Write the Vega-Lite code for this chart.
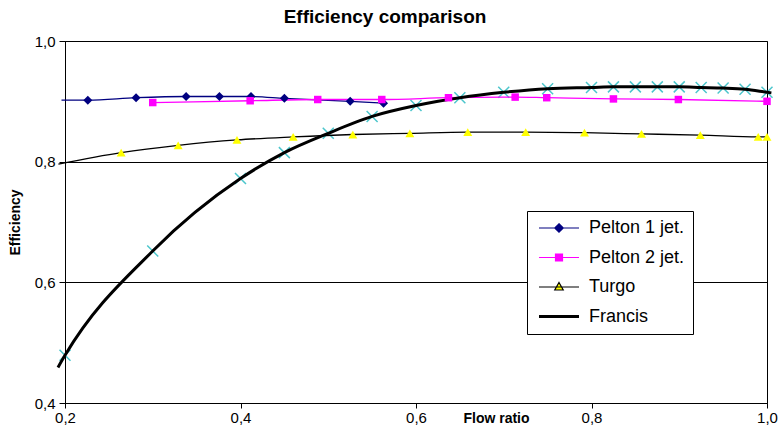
{
  "$schema": "https://vega.github.io/schema/vega-lite/v6.json",
  "autosize": "none",
  "width": 702,
  "height": 362,
  "padding": {"left": 65, "top": 41, "right": 12, "bottom": 32},
  "background": "#ffffff",
  "title": {"text": "Efficiency comparison", "font": "Liberation Sans", "fontSize": 19, "fontWeight": "bold", "color": "#000000", "dx": -31, "offset": 7},
  "config": {
    "view": {"stroke": "#000000", "strokeWidth": 1},
    "axis": {"domainColor": "#000000", "tickColor": "#000000", "gridColor": "#000000", "gridOpacity": 1, "labelFont": "Liberation Sans", "labelFontSize": 15, "labelColor": "#000000", "labelFlush": false, "labelOverlap": false, "titleFont": "Liberation Sans", "titleFontWeight": "bold", "titleColor": "#000000", "tickSize": 6}
  },
  "datasets": {
    "markers": [
      {"series": "Pelton 1 jet.", "flow": 0.226, "eff": 0.902},
      {"series": "Pelton 1 jet.", "flow": 0.281, "eff": 0.906},
      {"series": "Pelton 1 jet.", "flow": 0.338, "eff": 0.908},
      {"series": "Pelton 1 jet.", "flow": 0.376, "eff": 0.908},
      {"series": "Pelton 1 jet.", "flow": 0.412, "eff": 0.908},
      {"series": "Pelton 1 jet.", "flow": 0.450, "eff": 0.905},
      {"series": "Pelton 1 jet.", "flow": 0.525, "eff": 0.900},
      {"series": "Pelton 1 jet.", "flow": 0.563, "eff": 0.897},
      {"series": "Pelton 2 jet.", "flow": 0.300, "eff": 0.898},
      {"series": "Pelton 2 jet.", "flow": 0.411, "eff": 0.901},
      {"series": "Pelton 2 jet.", "flow": 0.488, "eff": 0.903},
      {"series": "Pelton 2 jet.", "flow": 0.561, "eff": 0.903},
      {"series": "Pelton 2 jet.", "flow": 0.637, "eff": 0.906},
      {"series": "Pelton 2 jet.", "flow": 0.713, "eff": 0.907},
      {"series": "Pelton 2 jet.", "flow": 0.749, "eff": 0.906},
      {"series": "Pelton 2 jet.", "flow": 0.825, "eff": 0.904},
      {"series": "Pelton 2 jet.", "flow": 0.899, "eff": 0.903},
      {"series": "Pelton 2 jet.", "flow": 1.000, "eff": 0.900},
      {"series": "Turgo", "flow": 0.264, "eff": 0.815},
      {"series": "Turgo", "flow": 0.329, "eff": 0.827},
      {"series": "Turgo", "flow": 0.396, "eff": 0.836},
      {"series": "Turgo", "flow": 0.460, "eff": 0.841},
      {"series": "Turgo", "flow": 0.528, "eff": 0.845},
      {"series": "Turgo", "flow": 0.593, "eff": 0.847},
      {"series": "Turgo", "flow": 0.659, "eff": 0.849},
      {"series": "Turgo", "flow": 0.725, "eff": 0.849},
      {"series": "Turgo", "flow": 0.792, "eff": 0.848},
      {"series": "Turgo", "flow": 0.857, "eff": 0.846},
      {"series": "Turgo", "flow": 0.924, "eff": 0.844},
      {"series": "Turgo", "flow": 0.990, "eff": 0.841},
      {"series": "Turgo", "flow": 1.000, "eff": 0.841},
      {"series": "Francis", "flow": 0.200, "eff": 0.479},
      {"series": "Francis", "flow": 0.300, "eff": 0.652},
      {"series": "Francis", "flow": 0.400, "eff": 0.772},
      {"series": "Francis", "flow": 0.450, "eff": 0.815},
      {"series": "Francis", "flow": 0.500, "eff": 0.847},
      {"series": "Francis", "flow": 0.550, "eff": 0.875},
      {"series": "Francis", "flow": 0.600, "eff": 0.893},
      {"series": "Francis", "flow": 0.650, "eff": 0.906},
      {"series": "Francis", "flow": 0.700, "eff": 0.915},
      {"series": "Francis", "flow": 0.750, "eff": 0.921},
      {"series": "Francis", "flow": 0.800, "eff": 0.923},
      {"series": "Francis", "flow": 0.825, "eff": 0.924},
      {"series": "Francis", "flow": 0.850, "eff": 0.924},
      {"series": "Francis", "flow": 0.875, "eff": 0.924},
      {"series": "Francis", "flow": 0.900, "eff": 0.924},
      {"series": "Francis", "flow": 0.925, "eff": 0.923},
      {"series": "Francis", "flow": 0.950, "eff": 0.922},
      {"series": "Francis", "flow": 0.975, "eff": 0.920},
      {"series": "Francis", "flow": 1.000, "eff": 0.915}
    ],
    "curves": [
      {"series": "Pelton 1 jet.", "flow": 0.196, "eff": 0.902},
      {"series": "Pelton 1 jet.", "flow": 0.226, "eff": 0.902},
      {"series": "Pelton 1 jet.", "flow": 0.281, "eff": 0.906},
      {"series": "Pelton 1 jet.", "flow": 0.338, "eff": 0.908},
      {"series": "Pelton 1 jet.", "flow": 0.376, "eff": 0.908},
      {"series": "Pelton 1 jet.", "flow": 0.412, "eff": 0.908},
      {"series": "Pelton 1 jet.", "flow": 0.450, "eff": 0.905},
      {"series": "Pelton 1 jet.", "flow": 0.525, "eff": 0.900},
      {"series": "Pelton 1 jet.", "flow": 0.563, "eff": 0.897},
      {"series": "Pelton 2 jet.", "flow": 0.300, "eff": 0.898},
      {"series": "Pelton 2 jet.", "flow": 0.411, "eff": 0.901},
      {"series": "Pelton 2 jet.", "flow": 0.488, "eff": 0.903},
      {"series": "Pelton 2 jet.", "flow": 0.561, "eff": 0.903},
      {"series": "Pelton 2 jet.", "flow": 0.637, "eff": 0.906},
      {"series": "Pelton 2 jet.", "flow": 0.713, "eff": 0.907},
      {"series": "Pelton 2 jet.", "flow": 0.749, "eff": 0.906},
      {"series": "Pelton 2 jet.", "flow": 0.825, "eff": 0.904},
      {"series": "Pelton 2 jet.", "flow": 0.899, "eff": 0.903},
      {"series": "Pelton 2 jet.", "flow": 1.000, "eff": 0.900},
      {"series": "Turgo", "flow": 0.1925, "eff": 0.796},
      {"series": "Turgo", "flow": 0.264, "eff": 0.815},
      {"series": "Turgo", "flow": 0.329, "eff": 0.827},
      {"series": "Turgo", "flow": 0.396, "eff": 0.836},
      {"series": "Turgo", "flow": 0.460, "eff": 0.841},
      {"series": "Turgo", "flow": 0.528, "eff": 0.845},
      {"series": "Turgo", "flow": 0.593, "eff": 0.847},
      {"series": "Turgo", "flow": 0.659, "eff": 0.849},
      {"series": "Turgo", "flow": 0.725, "eff": 0.849},
      {"series": "Turgo", "flow": 0.792, "eff": 0.848},
      {"series": "Turgo", "flow": 0.857, "eff": 0.846},
      {"series": "Turgo", "flow": 0.924, "eff": 0.844},
      {"series": "Turgo", "flow": 0.990, "eff": 0.841},
      {"series": "Turgo", "flow": 1.000, "eff": 0.841},
      {"series": "Francis", "flow": 0.192, "eff": 0.459},
      {"series": "Francis", "flow": 0.200, "eff": 0.479},
      {"series": "Francis", "flow": 0.300, "eff": 0.652},
      {"series": "Francis", "flow": 0.400, "eff": 0.772},
      {"series": "Francis", "flow": 0.450, "eff": 0.815},
      {"series": "Francis", "flow": 0.500, "eff": 0.847},
      {"series": "Francis", "flow": 0.550, "eff": 0.875},
      {"series": "Francis", "flow": 0.600, "eff": 0.893},
      {"series": "Francis", "flow": 0.650, "eff": 0.906},
      {"series": "Francis", "flow": 0.700, "eff": 0.915},
      {"series": "Francis", "flow": 0.750, "eff": 0.921},
      {"series": "Francis", "flow": 0.800, "eff": 0.923},
      {"series": "Francis", "flow": 0.825, "eff": 0.924},
      {"series": "Francis", "flow": 0.850, "eff": 0.924},
      {"series": "Francis", "flow": 0.875, "eff": 0.924},
      {"series": "Francis", "flow": 0.900, "eff": 0.924},
      {"series": "Francis", "flow": 0.925, "eff": 0.923},
      {"series": "Francis", "flow": 0.950, "eff": 0.922},
      {"series": "Francis", "flow": 0.975, "eff": 0.920},
      {"series": "Francis", "flow": 1.000, "eff": 0.915},
      {"series": "Francis", "flow": 1.005, "eff": 0.914}
    ]
  },
  "encoding": {
    "x": {"field": "flow", "type": "quantitative",
      "scale": {"domain": [0.2, 1.0], "nice": false, "zero": false},
      "axis": {"values": [0.2, 0.4, 0.6, 0.8, 1.0], "grid": false, "labelExpr": "replace(format(datum.value, '.1f'), '.', ',')", "labelPadding": 2, "tickSize": 5, "title": "Flow ratio", "titleFontSize": 14, "titleX": 431, "titleY": 15, "titleBaseline": "middle", "titleAlign": "center"}},
    "y": {"field": "eff", "type": "quantitative",
      "scale": {"domain": [0.4, 1.0], "nice": false, "zero": false},
      "axis": {"values": [0.4, 0.6, 0.8, 1.0], "grid": true, "labelExpr": "replace(format(datum.value, '.1f'), '.', ',')", "labelPadding": 4, "title": "Efficiency", "titleFontSize": 14, "titleAngle": -90, "titleX": -50, "titleY": 181, "titleAlign": "center", "titleBaseline": "middle"}}
  },
  "layer": [
    {
      "data": {"name": "markers"},
      "transform": [{"filter": "datum.series === 'Francis'"}],
      "mark": {"type": "point", "shape": "M-1,-1L1,1M-1,1L1,-1", "filled": false, "stroke": "#4cc6cc", "strokeWidth": 1.5, "size": 121, "opacity": 1}
    },
    {
      "data": {"name": "curves"},
      "transform": [{"filter": "datum.series !== 'Francis'"}],
      "mark": {"type": "line", "interpolate": "monotone", "strokeWidth": 1.3},
      "encoding": {
        "color": {"field": "series", "type": "nominal",
          "scale": {"domain": ["Pelton 1 jet.", "Pelton 2 jet.", "Turgo", "Francis"], "range": ["#000080", "#ff00ff", "#000000", "#000000"]},
          "legend": {
            "title": null, "orient": "none", "legendX": 462, "legendY": 170,
            "padding": 8, "strokeColor": "#000000", "fillColor": "#ffffff",
            "symbolSize": 100, "symbolType": "M-1,0H7", "labelOffset": 36,
            "labelFont": "Liberation Sans", "labelFontSize": 18, "labelColor": "#000000",
            "rowPadding": 11.5, "cornerRadius": 0,
            "encode": {"symbols": {"update": {
              "shape": {"signal": "datum.value === 'Pelton 1 jet.' ? 'M-1,0H7M3,-0.85L3.85,0L3,0.85L2.15,0Z' : datum.value === 'Pelton 2 jet.' ? 'M-1,0H7M2.3,-0.7H3.7V0.7H2.3Z' : datum.value === 'Turgo' ? 'M-1,0H7M3,-0.9L3.85,0.6H2.15Z' : 'M-1,0H7'"},
              "fill": {"signal": "datum.value === 'Pelton 1 jet.' ? '#000080' : datum.value === 'Pelton 2 jet.' ? '#ff00ff' : datum.value === 'Turgo' ? '#ffff00' : 'transparent'"},
              "stroke": {"signal": "datum.value === 'Pelton 1 jet.' ? '#000080' : datum.value === 'Pelton 2 jet.' ? '#ff00ff' : '#000000'"},
              "strokeWidth": {"signal": "datum.value === 'Francis' ? 3 : 1.2"},
              "opacity": {"value": 1}
            }}}
          }}
      }
    },
    {
      "data": {"name": "curves"},
      "transform": [{"filter": "datum.series === 'Francis'"}],
      "mark": {"type": "line", "interpolate": "monotone", "strokeWidth": 3, "color": "#000000"}
    },
    {
      "data": {"name": "markers"},
      "transform": [{"filter": "datum.series === 'Pelton 1 jet.'"}],
      "mark": {"type": "point", "shape": "diamond", "filled": true, "color": "#000080", "size": 81, "opacity": 1}
    },
    {
      "data": {"name": "markers"},
      "transform": [{"filter": "datum.series === 'Pelton 2 jet.'"}],
      "mark": {"type": "point", "shape": "square", "filled": true, "color": "#ff00ff", "size": 56, "opacity": 1}
    },
    {
      "data": {"name": "markers"},
      "transform": [{"filter": "datum.series === 'Turgo'"}],
      "mark": {"type": "point", "shape": "triangle-up", "filled": true, "color": "#ffff00", "size": 80, "opacity": 1}
    }
  ]
}
